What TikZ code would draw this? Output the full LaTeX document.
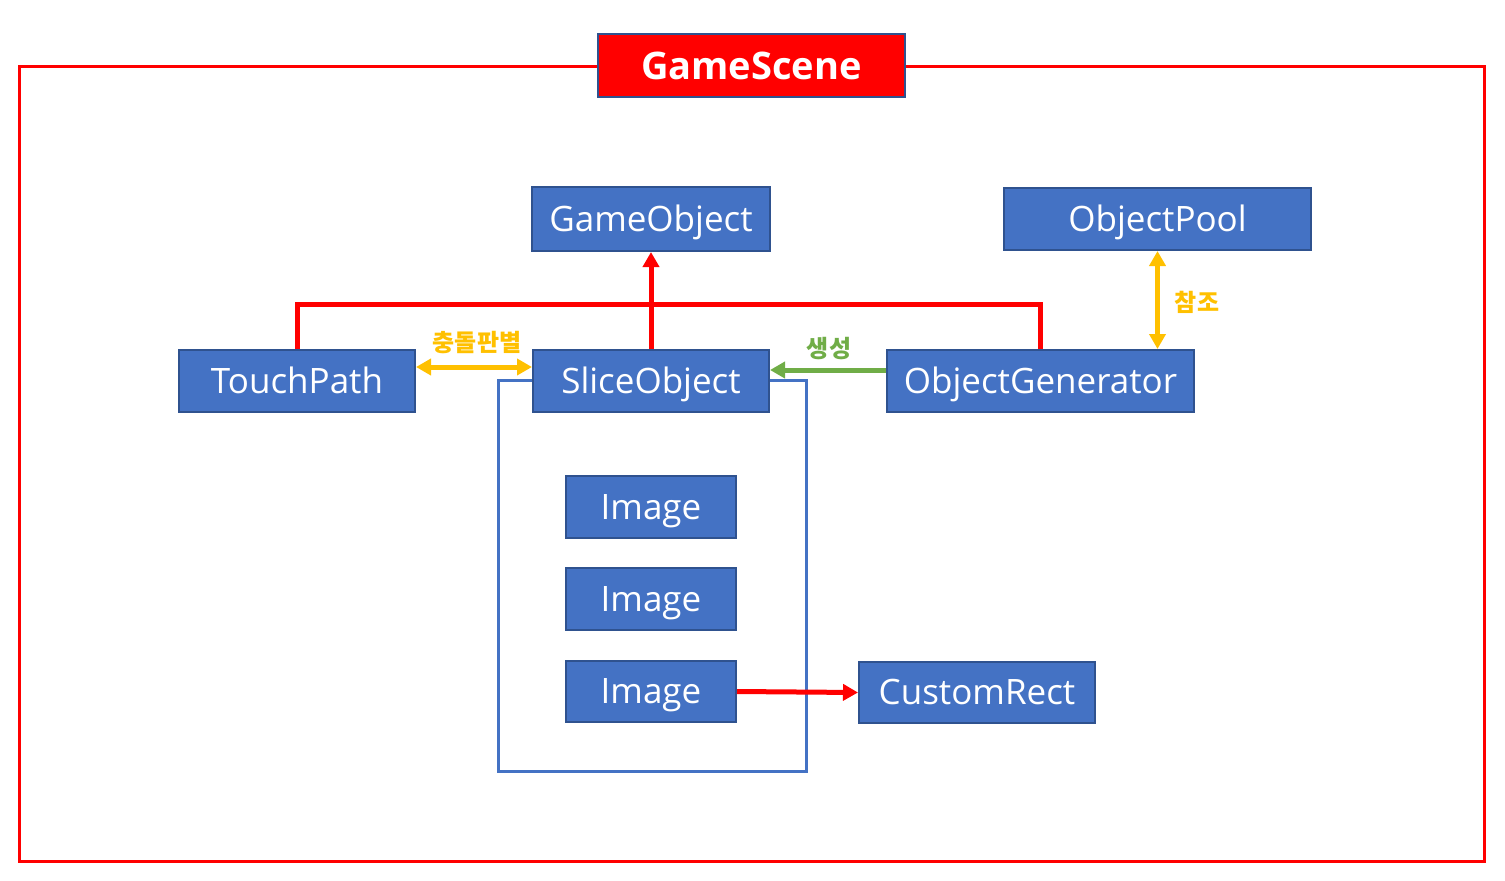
\documentclass[tikz,border=0pt]{standalone}
\usepackage{fontspec}
\setmainfont{Open Sans}
\newfontfamily\krfont{Noto Sans CJK KR}
\usetikzlibrary{arrows.meta,calc}
\definecolor{boxblue}{HTML}{4472C4}
\definecolor{boxedge}{HTML}{2F528F}
\definecolor{linkred}{HTML}{FF0000}
\definecolor{linkgold}{HTML}{FFC000}
\definecolor{linkgreen}{HTML}{70AD47}

\tikzset{
  cls/.style={draw=boxedge, line width=2pt, fill=boxblue, text=white,
    font=\fontsize{35}{35}\selectfont, text height=24pt, text depth=0pt,
    minimum height=62, inner sep=0pt},
  tag/.style={font=\krfont\bfseries\fontsize{24}{24}\selectfont},
  link/.style={line width=5pt},
  tip/.style={-{Triangle[length=15pt,width=16pt]}},
  bitip/.style={{Triangle[length=15pt,width=16pt]}-{Triangle[length=15pt,width=16pt]}}
}

\begin{document}
\begin{tikzpicture}[x=1pt, y=-1pt]
  \useasboundingbox (0,0) rectangle (1505,881);
  % outer scene frame and title
  \node[draw=linkred, line width=3pt, minimum width=1465, minimum height=795] (frame) at (751.5,463.5) {};
  \node[draw=boxedge, line width=2pt, fill=linkred, text=white, minimum width=307, minimum height=63,
    text height=27pt, text depth=0pt, inner sep=0pt,
    font=\bfseries\fontsize{38}{38}\selectfont] (scene) at (751.5,65.5) {GameScene};

  % container of the images
  \node[draw=boxblue, line width=3pt, minimum width=308, minimum height=391] (holder) at (652,575.5) {};

  \node[cls, minimum width=238, minimum height=64] (gameobj) at (651,219) {GameObject};
  \node[cls, minimum width=307] (pool) at (1157.5,219) {ObjectPool};
  \node[cls, minimum width=236] (touch) at (297,381) {TouchPath};
  \node[cls, minimum width=236] (slice) at (651,381) {SliceObject};
  \node[cls, minimum width=307] (gen) at (1040.5,381) {ObjectGenerator};
  \node[cls, minimum width=170] (img1) at (651,507) {Image};
  \node[cls, minimum width=170] (img2) at (651,599) {Image};
  \node[cls, minimum width=170, minimum height=61] (img3) at (651,691.5) {Image};
  \node[cls, minimum width=236, minimum height=61] (rect) at (977,692.5) {CustomRect};

  % connectors
  \draw[link, linkred] (touch.north) -- ++(0,-45) -| (gen.north);
  \draw[link, linkred, tip] (slice.north) -- (gameobj.south);
  \draw[link, linkgold, bitip] ($(touch.east)+(0,-14)$) -- ($(slice.west)+(0,-14)$);
  \node[tag, text=linkgold] (crash) at (477,343) {충돌판별};
  \draw[link, linkgreen, tip] ($(gen.west)+(0,-11)$) -- ($(slice.east)+(0,-11)$);
  \node[tag, text=linkgreen] (make) at (829,349) {생성};
  \draw[link, linkgold, bitip] (pool.south) -- (pool.south |- gen.north);
  \node[tag, text=linkgold] (ref) at (1197,302) {참조};
  \draw[link, linkred, tip] (img3.east) -- (rect.west);
\end{tikzpicture}
\end{document}
